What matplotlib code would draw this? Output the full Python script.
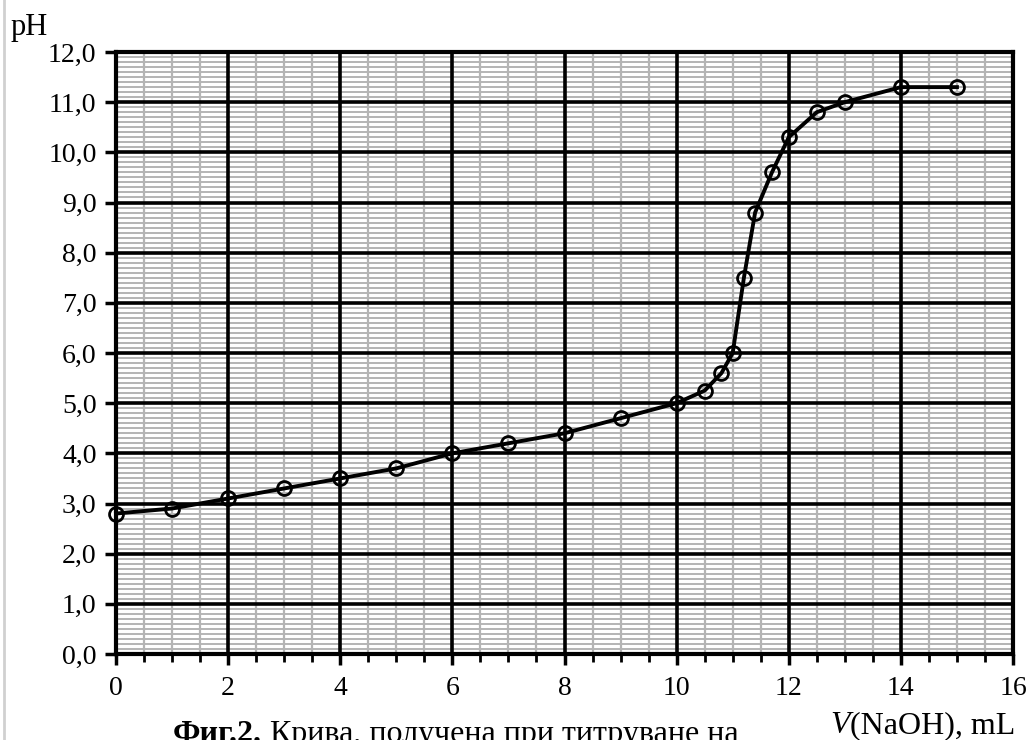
import numpy as np
import matplotlib.pyplot as plt
from matplotlib.ticker import MultipleLocator, FuncFormatter
from matplotlib.lines import Line2D

# titration data: volume of NaOH (mL) and measured pH
v_naoh = [0, 1, 2, 3, 4, 5, 6, 7, 8, 9, 10, 10.5, 10.8, 11, 11.2, 11.4,
          11.7, 12, 12.5, 13, 14, 15]
ph = [2.8, 2.9, 3.1, 3.3, 3.5, 3.7, 4.0, 4.2, 4.4, 4.7, 5.0, 5.25, 5.6, 6.0,
      7.5, 8.8, 9.6, 10.3, 10.8, 11.0, 11.3, 11.3]

plt.rcParams['font.family'] = ['Liberation Serif', 'DejaVu Serif']

fig = plt.figure(figsize=(10.32, 7.40), dpi=100)
ax = fig.add_axes([116 / 1032, 1 - 654 / 740, 897 / 1032, 602 / 740])

ax.set_xlim(0, 16)
ax.set_ylim(0, 12)
ax.xaxis.set_major_locator(MultipleLocator(2))
ax.xaxis.set_minor_locator(MultipleLocator(0.5))
ax.yaxis.set_major_locator(MultipleLocator(1))
ax.yaxis.set_minor_locator(MultipleLocator(1))
ax.yaxis.set_major_formatter(FuncFormatter(lambda v, p: f"{v:.1f}".replace('.', ',')))

# grid drawn by hand so all grey lines stay under all black lines
for y in np.arange(0.1, 12, 0.1):
    ax.axhline(y, color='#b4b4b4', linewidth=1.4, zorder=1)
for x in np.arange(0.5, 16, 0.5):
    ax.axvline(x, color='#b4b4b4', linewidth=1.6, zorder=1)
for y in range(1, 12):
    ax.axhline(y, color='black', linewidth=2.6, zorder=2)
for x in range(2, 16, 2):
    ax.axvline(x, color='black', linewidth=2.6, zorder=2)

ax.tick_params(axis='both', which='major', direction='out', length=8, width=2.5,
               labelsize=20, colors='black', pad=6)
ax.tick_params(axis='x', which='major', pad=8)
ax.tick_params(axis='x', which='minor', direction='out', length=6, width=2)
ax.tick_params(axis='y', which='minor', length=0)
for s in ax.spines.values():
    s.set_linewidth(3)
    s.set_color('black')
    s.set_zorder(3)

ax.plot(v_naoh, ph, color='black', linewidth=2.8, marker='o', markersize=10,
        markerfacecolor='none', markeredgecolor='black', markeredgewidth=2,
        zorder=5, clip_on=False)

fig.text(11 / 1032, 1 - 35 / 740, 'pH', fontsize=22, ha='left', va='baseline')

t_v = fig.text(830 / 1032, 1 - 733 / 740, 'V', fontsize=23, style='italic',
               ha='left', va='baseline')
ax.annotate('(NaOH), mL', xy=(1, 0), xycoords=t_v, fontsize=23,
            ha='left', va='bottom', annotation_clip=False)

cap = fig.text(173 / 1032, 1 - 742 / 740, 'Фиг.2.', fontsize=23,
               fontweight='bold', ha='left', va='baseline')
ax.annotate(' Крива, получена при титруване на', xy=(1, 0), xycoords=cap,
            fontsize=23, ha='left', va='bottom', annotation_clip=False)

# thin grey page border on the left
fig.add_artist(Line2D([4 / 1032, 4 / 1032], [0, 1], color='#d0d0d0', linewidth=2))

fig.savefig('out.png', dpi=100)
